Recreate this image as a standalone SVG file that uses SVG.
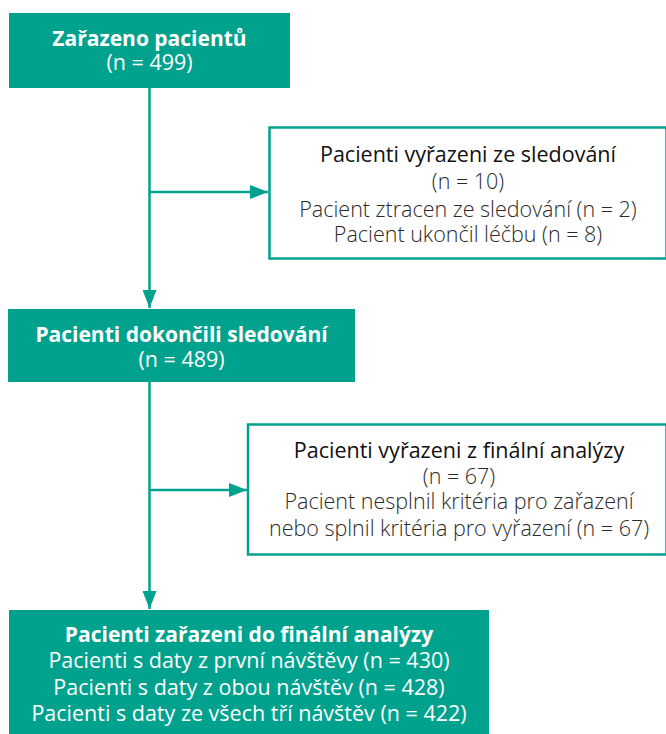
<svg xmlns="http://www.w3.org/2000/svg" width="666" height="734" viewBox="0 0 666 734">
<defs>
<marker id="ah" markerWidth="18" markerHeight="14" refX="18" refY="7" orient="auto" markerUnits="userSpaceOnUse">
<path d="M0,0 L18,7 L0,14 Z" fill="#00a28e"/>
</marker>
<style>
.fill{fill:#00a28e}
.out{fill:#fff;stroke:#00a28e;stroke-width:2.5}
.conn{fill:none;stroke:#00a28e;stroke-width:2.5}
text{font-family:"Open Sans","Noto Sans","Liberation Sans",sans-serif;font-size:21.5px;text-anchor:middle}
.wb{fill:#fff;font-weight:700;font-size:21px}
.w{fill:#fff;font-weight:400}
.dt{fill:#111;font-weight:500}
.d{fill:#2a2a2a;font-weight:300}
</style>
</defs>
<g id="connectors">
<path class="conn" d="M149.5,88 V308" marker-end="url(#ah)"/>
<path class="conn" d="M149.5,192 H268" marker-end="url(#ah)"/>
<path class="conn" d="M149.5,382 V609" marker-end="url(#ah)"/>
<path class="conn" d="M149.5,490 H247" marker-end="url(#ah)"/>
</g>
<g id="n1">
<rect class="fill" x="9" y="13" width="281" height="75"/>
<text class="wb" x="149.5" y="46">Zařazeno pacientů</text>
<text class="w" x="149.5" y="70">(n = 499)</text>
</g>
<g id="n2">
<rect class="out" x="269.5" y="127.5" width="397" height="131"/>
<text class="dt" x="468" y="162">Pacienti vyřazeni ze sledování</text>
<text class="d" x="468" y="189">(n = 10)</text>
<text class="d" x="468" y="217">Pacient ztracen ze sledování (n = 2)</text>
<text class="d" x="468" y="242">Pacient ukončil léčbu (n = 8)</text>
</g>
<g id="n3">
<rect class="fill" x="8" y="309" width="347" height="73"/>
<text class="wb" x="181.5" y="342">Pacienti dokončili sledování</text>
<text class="w" x="181.5" y="367">(n = 489)</text>
</g>
<g id="n4">
<rect class="out" x="248" y="424.5" width="418.5" height="130"/>
<text class="dt" x="459" y="458">Pacienti vyřazeni z finální analýzy</text>
<text class="d" x="459" y="484">(n = 67)</text>
<text class="d" x="459" y="509">Pacient nesplnil kritéria pro zařazení</text>
<text class="d" x="459" y="536">nebo splnil kritéria pro vyřazení (n = 67)</text>
</g>
<g id="n5">
<rect class="fill" x="9" y="610" width="480" height="124"/>
<text class="wb" x="249" y="642">Pacienti zařazeni do finální analýzy</text>
<text class="w" x="249" y="668">Pacienti s daty z první návštěvy (n = 430)</text>
<text class="w" x="249" y="695">Pacienti s daty z obou návštěv (n = 428)</text>
<text class="w" x="249" y="721">Pacienti s daty ze všech tří návštěv (n = 422)</text>
</g>
</svg>
